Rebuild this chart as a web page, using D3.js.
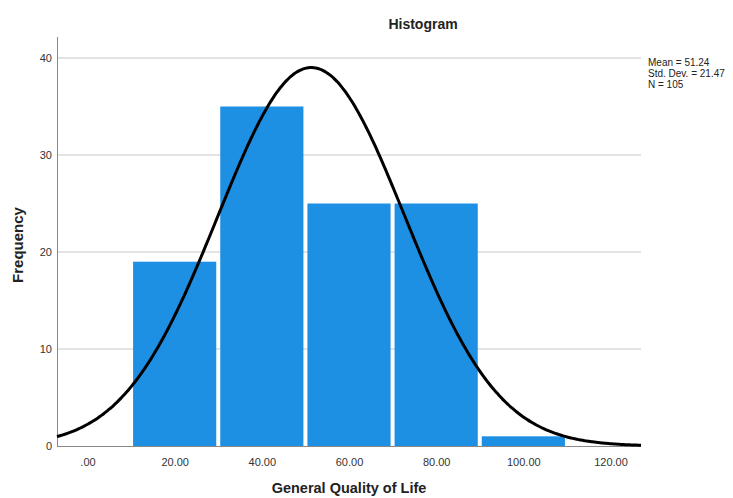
<!DOCTYPE html>
<html><head><meta charset="utf-8">
<script src="https://cdn.jsdelivr.net/npm/d3@7"></script>
<style>body{margin:0;background:#fff}svg{display:block;font-family:"Liberation Sans",Arial,sans-serif}</style>
</head><body>
<script>
const binStarts = [10, 30, 50, 70, 90];
const binWidth = 20;
const counts = [19, 35, 25, 25, 1];
const xTicks = [0, 20, 40, 60, 80, 100, 120];
const yTicks = [0, 10, 20, 30, 40];
const mean = 51.24, sd = 21.47, n = 105;
const statLines = ["Mean = 51.24", "Std. Dev. = 21.47", "N = 105"];

const W = 733, H = 498;
const svg = d3.select("body").append("svg").attr("width", W).attr("height", H);
const x = d3.scaleLinear().domain([0, 120]).range([88, 611]);
const y = d3.scaleLinear().domain([0, 40]).range([446, 58]);
const xMin = x.invert(57), xMax = x.invert(641);

// grid
svg.append("g").selectAll("line").data(yTicks.filter(d => d > 0)).join("line")
  .attr("x1", 57).attr("x2", 641).attr("y1", d => y(d)).attr("y2", d => y(d))
  .attr("stroke", "#c8c8c8").attr("stroke-width", 1);

// bars
svg.append("g").selectAll("rect").data(binStarts).join("rect")
  .attr("x", (d) => x(d) + 1.5)
  .attr("width", d => x(d + binWidth) - x(d) - 4)
  .attr("y", (d, i) => y(counts[i]))
  .attr("height", (d, i) => y(0) - y(counts[i]))
  .attr("fill", "#1e90e3");

// axes lines
svg.append("line").attr("x1", 57.5).attr("x2", 57.5).attr("y1", 37).attr("y2", 446.5).attr("stroke", "#888");
svg.append("line").attr("x1", 57).attr("x2", 641).attr("y1", 446.5).attr("y2", 446.5).attr("stroke", "#888");

// normal curve
const pts = d3.range(0, 301).map(i => xMin + (xMax - xMin) * i / 300);
const pdf = v => n * binWidth / (sd * Math.sqrt(2 * Math.PI)) * Math.exp(-0.5 * ((v - mean) / sd) ** 2);
svg.append("path").datum(pts)
  .attr("d", d3.line().x(d => x(d)).y(d => y(pdf(d))).curve(d3.curveBasis))
  .attr("fill", "none").attr("stroke", "#000").attr("stroke-width", 3);

// tick labels
svg.append("g").selectAll("text").data(xTicks).join("text")
  .attr("x", d => x(d)).attr("y", 466).attr("text-anchor", "middle")
  .attr("font-size", 11).attr("fill", "#333")
  .text(d => d === 0 ? ".00" : d3.format(".2f")(d));
svg.append("g").selectAll("text").data(yTicks).join("text")
  .attr("x", 52).attr("y", d => y(d) + 4).attr("text-anchor", "end")
  .attr("font-size", 11).attr("fill", "#333").text(d => d);

// titles
svg.append("text").attr("x", 423).attr("y", 29).attr("text-anchor", "middle")
  .attr("font-size", 14).attr("font-weight", "bold").attr("fill", "#222").text("Histogram");
svg.append("text").attr("x", 349).attr("y", 493).attr("text-anchor", "middle")
  .attr("font-size", 14.5).attr("font-weight", "bold").attr("fill", "#222").text("General Quality of Life");
svg.append("text").attr("transform", "translate(23,245) rotate(-90)").attr("text-anchor", "middle")
  .attr("font-size", 15).attr("font-weight", "bold").attr("fill", "#222").text("Frequency");

// stats
svg.append("g").selectAll("text").data(statLines).join("text")
  .attr("x", 648).attr("y", (d, i) => 66 + i * 11)
  .attr("font-size", 10).attr("fill", "#222").text(d => d);
</script>
</body></html>
